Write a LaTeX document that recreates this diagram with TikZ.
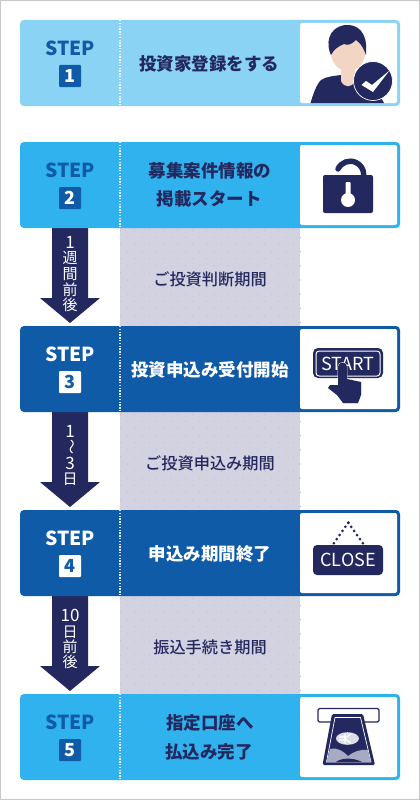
\documentclass[tikz,border=0pt]{standalone}
\usepackage{fontspec}
\setmainfont{Noto Sans CJK JP}
\newfontfamily\medfont{Noto Sans CJK JP Medium}
\definecolor{navy}{HTML}{23285F}
\definecolor{lightb}{HTML}{8AD3F5}
\definecolor{midb}{HTML}{30B2EE}
\definecolor{deepb}{HTML}{0F5BA7}
\definecolor{band}{HTML}{D2D2E0}
\definecolor{banddot}{HTML}{C2C2D4}
\definecolor{skin}{HTML}{F2D5C3}
\definecolor{framegray}{HTML}{C8C8C8}
\definecolor{atmgray}{HTML}{A8A9C2}
\tikzset{
  steplabel/.style={font=\bfseries\fontsize{19.3}{20}\selectfont,inner sep=0pt},
  numbox/.style={minimum size=22pt,inner sep=0pt,rounded corners=1pt,font=\bfseries\fontsize{18}{18}\selectfont},
  maintext/.style={font=\bfseries\fontsize{17.5}{17.5}\selectfont,inner sep=0pt,align=center},
  bandtext/.style={font=\medfont\fontsize{16.2}{16.2}\selectfont,inner sep=0pt,text=navy},
  arrowtext/.style={font=\fontsize{15}{15}\selectfont,inner sep=0pt,text=white},
  arrowdigit/.style={font=\fontsize{17}{17}\selectfont,inner sep=0pt,text=white},
  signtext/.style={font=\fontsize{18}{18}\selectfont,inner sep=0pt,text=white},
  blockarrow/.style={fill=navy,draw=none}
}
% #1 name, #2 top y, #3 box colour, #4 label colour, #5 number box colour, #6 number colour, #7 number
\newcommand{\stepcard}[7]{%
  \fill[#3,rounded corners=4pt] (20,#2) rectangle (400,#2+86);
  \fill[white,rounded corners=2pt] (300,#2+3) -- (397,#2+3) -- (397,#2+83) -- (300,#2+83) -- cycle;
  \fill[#3] (296,#2+3) rectangle (300,#2+83);
  \draw[white,line width=1.3pt,dash pattern=on 1.4pt off 1.4pt,opacity=.85] (120,#2) -- (120,#2+86);
  \node[steplabel,text=#4] (#1label) at (70,#2+28) {STEP};
  \node[numbox,fill=#5,text=#6] (#1num) at (70,#2+56) {#7};
}
% #1 top y
\newcommand{\dotband}[1]{%
  \fill[band] (120,#1) rectangle (300,#1+98);
  \foreach \r in {0,...,13}{
    \foreach \c in {0,...,12}{
      \pgfmathsetmacro{\dx}{120.5+\c*14.4+mod(\r,2)*7.2}
      \pgfmathsetmacro{\dy}{#1+2.3+\r*7.1}
      \fill[banddot] (\dx,\dy) circle (.7);
    }
  }
}
% #1 top y, #2 head y, #3 tip y
\newcommand{\blockarr}[3]{%
  \fill[blockarrow] (52,#1) -- (88,#1) -- (88,#2) -- (100,#2) -- (70,#3) -- (40,#2) -- (52,#2) -- cycle;
}
\begin{document}
\begin{tikzpicture}[x=1pt,y=-1pt]
\useasboundingbox (0,0) rectangle (420,800);
\fill[white] (0,0) rectangle (420,800);
\draw[framegray,line width=1pt] (.5,.5) rectangle (419.5,799.5);

\dotband{228}
\dotband{412}
\dotband{596}

\blockarr{228}{298}{323}
\blockarr{412}{482}{507}
\blockarr{596}{666}{691}

\stepcard{s1}{20}{lightb}{deepb}{deepb}{white}{1}
\stepcard{s2}{142}{midb}{deepb}{deepb}{white}{2}
\stepcard{s3}{326}{deepb}{white}{white}{deepb}{3}
\stepcard{s4}{510}{deepb}{white}{white}{deepb}{4}
\stepcard{s5}{694}{midb}{deepb}{deepb}{white}{5}

\node[maintext,text=navy] (t1) at (209,64) {投資家登録をする};
\node[maintext,text=navy] (t2a) at (210,171) {募集案件情報の};
\node[maintext,text=navy] (t2b) at (209,199) {掲載スタート};
\node[maintext,text=white] (t3) at (210,370) {投資申込み受付開始};
\node[maintext,text=white] (t4) at (210,554) {申込み期間終了};
\node[maintext,text=navy] (t5a) at (210,723) {指定口座へ};
\node[maintext,text=navy] (t5b) at (209,752) {払込み完了};

\node[bandtext] (b1) at (210,279) {ご投資判断期間};
\node[bandtext] (b2) at (210,463) {ご投資申込み期間};
\node[bandtext] (b3) at (210,647) {振込手続き期間};

\node[arrowdigit] (a1a) at (70,242) {1};
\node[arrowtext] (a1b) at (70,258) {週};
\node[arrowtext] (a1c) at (70,274) {間};
\node[arrowtext] (a1d) at (70,290) {前};
\node[arrowtext] (a1e) at (70,305) {後};

\node[arrowdigit] (a2a) at (70,431) {1};
\node[arrowtext,rotate=-90] (a2b) at (70,447) {〜};
\node[arrowdigit] (a2c) at (70,463) {3};
\node[arrowtext] (a2d) at (70,479) {日};

\node[arrowdigit] (a3a) at (70,615) {10};
\node[arrowtext] (a3b) at (70,632) {日};
\node[arrowtext] (a3c) at (70,647) {前};
\node[arrowtext] (a3d) at (70,662) {後};

% user icon
\fill[navy] (310.5,103) .. controls (313,95) and (316,85) .. (321,80) .. controls (327,76) and (335,76) .. (341,75) -- (355,75) .. controls (362,76) and (370,78) .. (374,85) -- (384,103) -- cycle;
\fill[skin] (341,66) -- (355,66) -- (355,81) .. controls (352,88) and (344,88) .. (341,81) -- cycle;
\fill[skin] (330,48) .. controls (330,62) and (338,71) .. (348,71) .. controls (358,71) and (366,62) .. (366,48) -- (366,40) -- (330,40) -- cycle;
\fill[navy] (331,55) .. controls (326,45) and (327,28) .. (345,25) .. controls (358,24) and (368,32) .. (366,55) .. controls (364,50) and (362,44) .. (356,40) .. controls (352,44) and (348,46) .. (344,44) .. controls (339,46) and (334,49) .. (331,55) -- cycle;
\fill[navy,draw=white,line width=.7pt] (373,81) circle (19.5);
\fill[white] (361.5,85) -- (366,81) -- (372,85) -- (389.5,70.5) -- (373,92) -- cycle;

% lock icon
\draw[navy,line width=5.5pt,line cap=round] (338,169) arc[start angle=-155,end angle=0,radius=13.5];
\fill[navy,rounded corners=2pt] (323,175) rectangle (373,213);
\fill[white] (348,200) circle (7);
\fill[white,rounded corners=1pt] (345.5,182) rectangle (350.5,200);

% start icon
\fill[navy,rounded corners=5pt] (313,348) rectangle (383,378);
\draw[white,line width=1pt,rounded corners=3pt] (316,351) rectangle (380,376);
\node[signtext] (starttext) at (348,364) {START};
\fill[navy,draw=white,line width=.8pt] (338,385) -- (338,367) .. controls (338,361) and (347,361) .. (347,367) -- (347,379) -- (361,382) -- (361,395) -- (358,403) -- (343,403) -- (337,395) -- (328,388) -- (330,385) -- cycle;
\fill[navy] (338,385) -- (338,367) .. controls (338,361) and (347,361) .. (347,367) -- (347,379) -- (361,382) -- (361,395) -- (358,403) -- (343,403) -- (337,395) -- (328,388) -- (330,385) -- cycle;

% close icon
\foreach \t in {0,...,5}{
  \pgfmathsetmacro{\lx}{348.3-\t*2.9}
  \pgfmathsetmacro{\rx}{348.3+\t*2.9}
  \pgfmathsetmacro{\ly}{522.7+\t*4.1}
  \fill[navy] (\lx,\ly) circle (1.5);
  \fill[navy] (\rx,\ly) circle (1.5);
}
\fill[navy,rounded corners=4pt] (313,545) rectangle (383,575);
\node[signtext] (closetext) at (348,560) {CLOSE};

% atm icon
\draw[navy,line width=1.3pt,fill=white,rounded corners=1.5pt] (318,708.5) rectangle (379,722);
\fill[navy,rounded corners=1.5pt] (332,714) -- (363,714) -- (375,765) -- (322.5,765) -- cycle;
\draw[white,line width=.7pt] (335,717.5) -- (360.5,717.5) -- (371,762) -- (326.5,762) -- cycle;
\fill[atmgray] (326.5,762) -- (330,749) .. controls (338,747) and (344,752) .. (348,756) .. controls (353,752) and (360,749) .. (367.8,750) -- (371,762) -- cycle;
\fill[navy] (336,762) .. controls (341,758) and (352,757) .. (362,762) -- cycle;
\fill[atmgray!40] (347.5,738.5) ellipse (11.5 and 6.3);
\draw[white,line width=1.1pt] (345,733.5) -- (345,743.5) (351,733.5) -- (345,738.5) -- (351,743.5) (339,737) -- (345,737) (339,740) -- (345,740);
\end{tikzpicture}
\end{document}
